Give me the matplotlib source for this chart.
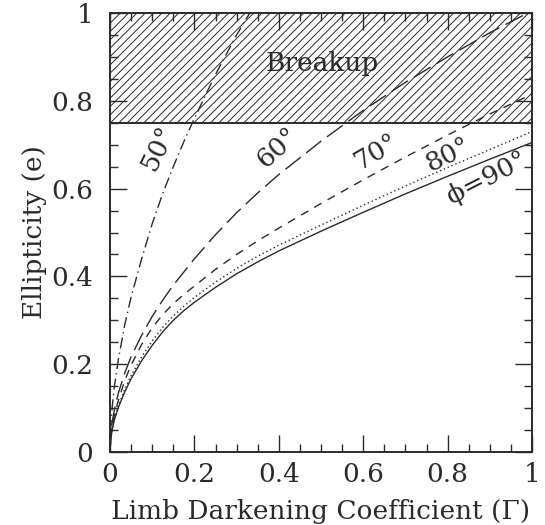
import numpy as np
import matplotlib
matplotlib.use("Agg")
import matplotlib.pyplot as plt
from matplotlib.ticker import MultipleLocator, FuncFormatter

# readings: limb darkening coefficient Gamma vs ellipticity e
gam = [0, 0.002, 0.005, 0.01, 0.02, 0.035, 0.05, 0.075, 0.1, 0.125, 0.15, 0.175,
       0.2, 0.25, 0.3, 0.35, 0.4, 0.5, 0.6, 0.7, 0.8, 0.9, 1.0]
e90 = [0, 0.03, 0.05, 0.072, 0.102, 0.137, 0.167, 0.208, 0.243, 0.274, 0.30, 0.322,
       0.341, 0.375, 0.406, 0.433, 0.458, 0.503, 0.546, 0.588, 0.628, 0.667, 0.705]
e80 = [0, 0.031, 0.052, 0.075, 0.106, 0.143, 0.174, 0.217, 0.253, 0.284, 0.31, 0.332,
       0.352, 0.387, 0.418, 0.446, 0.471, 0.517, 0.562, 0.606, 0.648, 0.689, 0.730]
e70 = [0, 0.035, 0.058, 0.083, 0.118, 0.163, 0.198, 0.245, 0.283, 0.313, 0.338, 0.359,
       0.378, 0.416, 0.45, 0.481, 0.51, 0.566, 0.62, 0.672, 0.722, 0.77, 0.815]
e60 = [0, 0.041, 0.066, 0.095, 0.135, 0.18, 0.217, 0.266, 0.309, 0.346, 0.38, 0.41,
       0.44, 0.495, 0.545, 0.59, 0.632, 0.708, 0.778, 0.842, 0.90, 0.955, 1.005]

gam50 = [0, 0.002, 0.005, 0.01, 0.02, 0.035, 0.05, 0.075, 0.1, 0.125, 0.15, 0.175,
         0.2, 0.25, 0.3, 0.35]
e50 = [0, 0.061, 0.10, 0.147, 0.212, 0.29, 0.353, 0.44, 0.52, 0.589, 0.65, 0.707,
       0.76, 0.86, 0.95, 1.03]

breakup_e = 0.75

ink = '#2a2a2a'
plt.rcParams['font.family'] = ['DejaVu Serif']
plt.rcParams['hatch.linewidth'] = 0.7

fig = plt.figure(figsize=(5.45, 5.25), dpi=100)
ax = fig.add_axes([110/545, 73/525, 422/545, 439/525])

# breakup region
ax.axhspan(breakup_e, 1.0, facecolor='none', edgecolor=ink, hatch='////', linewidth=0, zorder=1)
ax.axhline(breakup_e, color=ink, lw=1.4, zorder=3)

ax.plot(gam, e90, color=ink, lw=1.0, ls='-', zorder=2)
ax.plot(gam, e80, color=ink, lw=1.0, ls=(0, (1, 2)), zorder=2)
ax.plot(gam, e70, color=ink, lw=1.0, ls=(0, (6, 5)), zorder=2)
ax.plot(gam, e60, color=ink, lw=1.0, ls=(0, (14, 5)), zorder=2)
ax.plot(gam50, e50, color=ink, lw=1.0, ls=(0, (8, 3, 1, 3)), zorder=2)

fs = 19
ax.text(0.502, 0.886, 'Breakup', fontsize=fs, color=ink, ha='center', va='center', zorder=4)
ax.text(0.114, 0.692, '50°', fontsize=fs, color=ink, ha='center', va='center', rotation=64)
ax.text(0.396, 0.692, '60°', fontsize=fs, color=ink, ha='center', va='center', rotation=42)
ax.text(0.632, 0.684, '70°', fontsize=fs, color=ink, ha='center', va='center', rotation=30)
ax.text(0.800, 0.676, '80°', fontsize=fs, color=ink, ha='center', va='center', rotation=26)
ax.text(0.893, 0.624, 'ϕ=90°', fontsize=fs, color=ink, ha='center', va='center', rotation=27)

ax.set_xlim(0, 1)
ax.set_ylim(0, 1)
ax.xaxis.set_major_locator(MultipleLocator(0.2))
ax.xaxis.set_minor_locator(MultipleLocator(0.05))
ax.yaxis.set_major_locator(MultipleLocator(0.2))
ax.yaxis.set_minor_locator(MultipleLocator(0.05))
fmt = FuncFormatter(lambda v, p: '%g' % round(v, 2))
ax.xaxis.set_major_formatter(fmt)
ax.yaxis.set_major_formatter(fmt)
ax.tick_params(which='both', direction='in', top=True, right=True, colors=ink, labelsize=fs)
ax.tick_params(which='major', length=12, width=1.0)
ax.tick_params(which='minor', length=5.5, width=1.0)
ax.tick_params(axis='x', pad=7)
ax.tick_params(axis='y', pad=12)
for s in ax.spines.values():
    s.set_color(ink)
    s.set_linewidth(1.4)

fig.text(321/545, 1 - 511/525, 'Limb Darkening Coefficient (Γ)', fontsize=fs, color=ink,
         ha='center', va='center')
fig.text(35/545, 1 - 232/525, 'Ellipticity (e)', fontsize=fs, color=ink,
         ha='center', va='center', rotation=90)

fig.savefig('out.png', dpi=100)
